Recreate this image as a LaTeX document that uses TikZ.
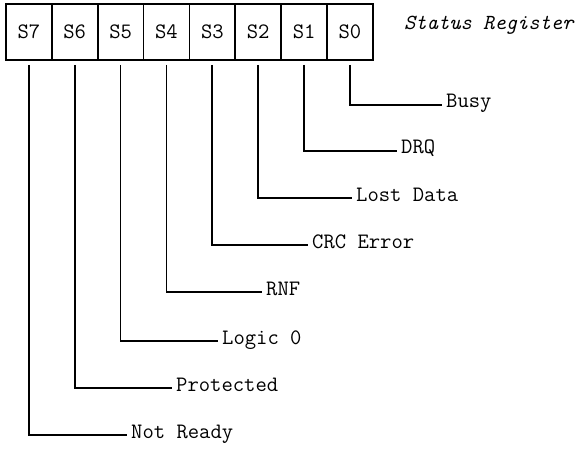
\documentclass[tikz,border=0pt]{standalone}
\begin{document}
\begin{tikzpicture}[x=1pt,y=-1pt,
  font=\fontsize{22}{24}\selectfont\ttfamily,
  cell/.style={draw, line width=1.8pt, minimum width=45.875pt, minimum height=56pt, inner sep=0pt, anchor=north west},
  lbl/.style={anchor=west, inner sep=0pt, text height=0.6em, text depth=0pt, xshift=4pt},
  wire/.style={line width=1.8pt}]
\useasboundingbox (0,0) rectangle (578,449);
% register cells
\node[cell] (s7) at (5,3) {S7};
\node[cell] (s6) at (50.875,3) {S6};
\node[cell] (s5) at (96.75,3) {S5};
\node[cell] (s4) at (142.625,3) {S4};
\node[cell] (s3) at (188.5,3) {S3};
\node[cell] (s2) at (234.375,3) {S2};
\node[cell] (s1) at (280.25,3) {S1};
\node[cell] (s0) at (326.125,3) {S0};
\node[anchor=west, inner sep=0pt, font=\fontsize{21.5}{24}\selectfont\ttfamily\itshape] (title) at (404,25) {Status Register};
% label ends
\coordinate (e0) at (442,105);
\coordinate (e1) at (397,151);
\coordinate (e2) at (352,198);
\coordinate (e3) at (308,245);
\coordinate (e4) at (262,292);
\coordinate (e5) at (218,341);
\coordinate (e6) at (172,388);
\coordinate (e7) at (127,435);
\node[lbl] (l0) at (e0) {Busy};
\node[lbl] (l1) at (e1) {DRQ};
\node[lbl] (l2) at (e2) {Lost Data};
\node[lbl] (l3) at (e3) {CRC Error};
\node[lbl] (l4) at (e4) {RNF};
\node[lbl] (l5) at (e5) {Logic 0};
\node[lbl] (l6) at (e6) {Protected};
\node[lbl] (l7) at (e7) {Not Ready};
% connectors
\foreach \i in {0,...,7}{
  \draw[wire] ([yshift=-4pt]s\i.south) |- (e\i);
}
\end{tikzpicture}
\end{document}
